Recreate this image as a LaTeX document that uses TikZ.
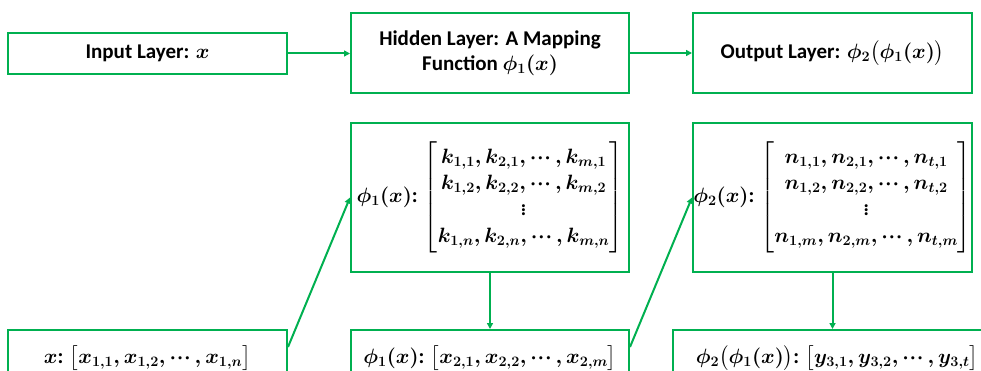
\documentclass[tikz,border=0pt]{standalone}
\usepackage{amsmath}
\usepackage[no-math]{fontspec}
\setmainfont{Carlito}
\usetikzlibrary{arrows.meta,calc}
\definecolor{nngreen}{RGB}{0,176,80}
% compact centred dots
\newcommand\cds{\mathinner{\cdotp\mkern-2.5mu\cdotp\mkern-2.5mu\cdotp}}
% compact bracketed column of rows, set a little smaller than the labels
\newcommand\colm[1]{{\fontsize{20}{24}\selectfont$\left[\renewcommand\arraystretch{1.1}%
  \begin{array}{@{}c@{}}#1\end{array}\right]$}}
% bracketed row vector
\newcommand\rowv[1]{{\fontsize{20}{24}\selectfont$\bigl[#1\bigr]$}}

\begin{document}
\begin{tikzpicture}[x=1pt,y=-1pt,
  box/.style={draw=nngreen, line width=2pt, rectangle, inner sep=0pt,
    align=center, font=\fontsize{21}{25}\selectfont\bfseries\boldmath},
  link/.style={draw=nngreen, line width=2pt,
    -{Triangle[length=6pt,width=6pt]}}]
\useasboundingbox (0,0) rectangle (981,371);

% top row: the three layers
\node[box, minimum width=279pt, minimum height=41pt] (inp) at (147.5,53.5)
  {Input Layer: $x$};
\node[box, minimum width=278pt, minimum height=80pt] (hid) at (490,53)
  {Hidden Layer: A Mapping\\Function $\phi_1(x)$};
\node[box, minimum width=279pt, minimum height=80pt] (out) at (832.5,53)
  {Output Layer: $\phi_2\bigl(\phi_1(x)\bigr)$};

% middle row: the weight matrices
\node[box, minimum width=278pt, minimum height=149pt] (w1) at (490,197.5)
  {$\phi_1(x)$: \colm{
    k_{1,1}, k_{2,1}, \cds, k_{m,1}\\
    k_{1,2}, k_{2,2}, \cds, k_{m,2}\\
    \vdots\\
    k_{1,n}, k_{2,n}, \cds, k_{m,n}}};
\node[box, minimum width=279pt, minimum height=149pt] (w2) at (832.5,197.5)
  {$\phi_2(x)$: \colm{
    n_{1,1}, n_{2,1}, \cds, n_{t,1}\\
    n_{1,2}, n_{2,2}, \cds, n_{t,2}\\
    \vdots\\
    n_{1,m}, n_{2,m}, \cds, n_{t,m}}};

% bottom row: the vectors
\node[box, minimum width=279pt, minimum height=56pt] (xv) at (147.5,358)
  {$x$: \rowv{x_{1,1}, x_{1,2}, \cds, x_{1,n}}};
\node[box, minimum width=278pt, minimum height=56pt] (hv) at (490,358)
  {$\phi_1(x)$: \rowv{x_{2,1}, x_{2,2}, \cds, x_{2,m}}};
\node[box, minimum width=328pt, minimum height=56pt] (yv) at (837,358)
  {$\phi_2\bigl(\phi_1(x)\bigr)$: \rowv{y_{3,1}, y_{3,2}, \cds, y_{3,t}}};

% connectors
\draw[link] (inp.east) -- (hid.west |- inp.east);
\draw[link] (hid.east) -- (out.west);
\draw[link] ([yshift=-18pt]xv.north east) -- (w1.west);
\draw[link] ([yshift=-18pt]hv.north east) -- (w2.west);
\draw[link] (w1.south) -- (hv.north);
\draw[link] (w2.south) -- (w2.south |- yv.north);
\end{tikzpicture}
\end{document}
